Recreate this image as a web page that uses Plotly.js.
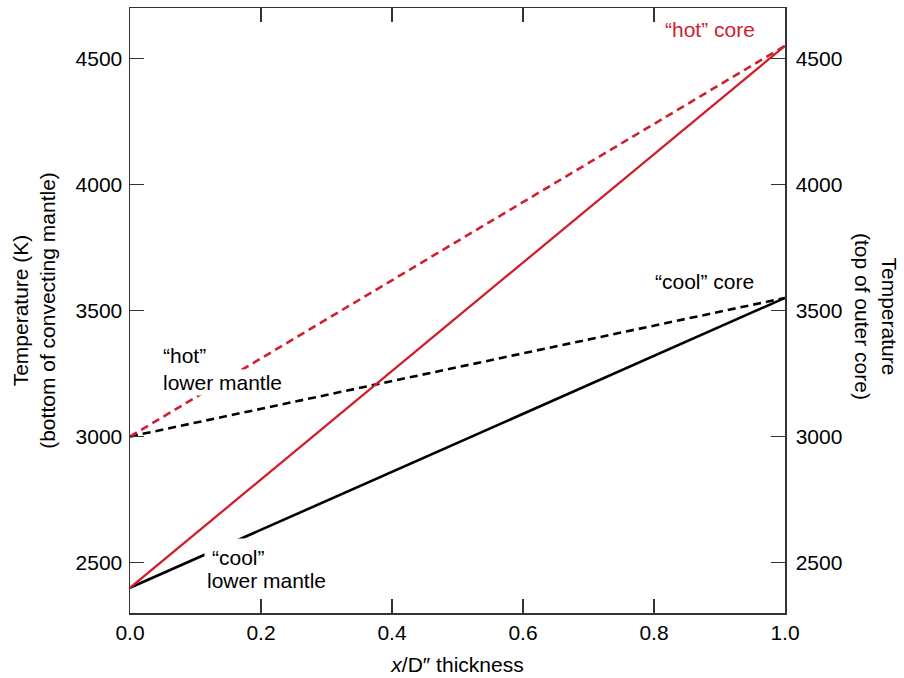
<!DOCTYPE html>
<html>
<head>
<meta charset="utf-8">
<script src="https://cdn.plot.ly/plotly-3.0.1.min.js"></script>
<style>html,body{margin:0;padding:0;background:#fff;}#chart{width:904px;height:678px;}</style>
</head>
<body>
<div id="chart"></div>
<script>
// x positions (fraction of D" thickness)
const xThickness = [0, 1];
// temperatures (K)
const hotCoreHotMantle = [3000, 4550];   // red dashed
const hotCoreCoolMantle = [2400, 4550];  // red solid
const coolCoreHotMantle = [3000, 3550];  // black dashed
const coolCoreCoolMantle = [2400, 3550]; // black solid

const xTickVals = [0, 0.2, 0.4, 0.6, 0.8, 1.0];
const xTickText = ["0.0", "0.2", "0.4", "0.6", "0.8", "1.0"];
const yTickVals = [2500, 3000, 3500, 4000, 4500];
const yTickText = ["2500", "3000", "3500", "4000", "4500"];

const RED = "rgb(208,32,46)";
const BLACK = "#000";
const FONT = "Liberation Sans, Arial, sans-serif";
const FS = 21;

const traces = [
  {x: xThickness, y: coolCoreCoolMantle, mode: "lines", line: {color: BLACK, width: 2.6}, hoverinfo: "skip"},
  {x: xThickness, y: coolCoreHotMantle, mode: "lines", line: {color: BLACK, width: 2.6, dash: "8px,5px"}, hoverinfo: "skip"},
  {x: xThickness, y: hotCoreHotMantle, mode: "lines", line: {color: RED, width: 2.6, dash: "8px,5px"}, hoverinfo: "skip"},
  {x: xThickness, y: hotCoreCoolMantle, mode: "lines", line: {color: RED, width: 2.3}, hoverinfo: "skip"},
  {x: xThickness, y: hotCoreCoolMantle, yaxis: "y2", mode: "lines", line: {color: "rgba(0,0,0,0)", width: 0}, hoverinfo: "skip"}
];

const axisCommon = {
  showgrid: false, zeroline: false, showline: true, linecolor: "#333", linewidth: 1.5,
  ticks: "inside", ticklen: 14, tickwidth: 1.5, tickcolor: "#333",
  tickfont: {family: FONT, size: FS, color: "#000"}
};

const layout = {
  width: 904, height: 678,
  margin: {l: 130, r: 119, t: 8, b: 65},
  paper_bgcolor: "#fff", plot_bgcolor: "#fff",
  showlegend: false,
  font: {family: FONT, size: FS, color: "#000"},
  xaxis: Object.assign({}, axisCommon, {
    range: [0, 1], tickvals: xTickVals, ticktext: xTickText, mirror: "ticks",
    title: {text: "<i>x</i>/D″ thickness", font: {family: FONT, size: FS}, standoff: 14}
  }),
  yaxis: Object.assign({}, axisCommon, {
    range: [2300, 4700], tickvals: yTickVals, ticktext: yTickText, ticklabelstandoff: 2,
    title: {text: "Temperature (K)<br>(bottom of convecting mantle)", font: {family: FONT, size: FS}, standoff: 14}
  }),
  yaxis2: Object.assign({}, axisCommon, {
    range: [2300, 4700], tickvals: yTickVals, ticktext: yTickText, ticklabelstandoff: 5,
    overlaying: "y", side: "right"
  }),
  annotations: [
    {xref: "paper", yref: "paper", x: 1.181, y: 0.49, textangle: 90, showarrow: false,
     text: "Temperature<br>(top of outer core)", font: {family: FONT, size: FS, color: "#000"}},
    {x: 0.957, y: 4614, xanchor: "right", showarrow: false, text: "“hot” core", font: {family: FONT, size: FS, color: RED}},
    {x: 0.955, y: 3615, xanchor: "right", showarrow: false, text: "“cool” core", font: {family: FONT, size: FS, color: BLACK}},
    {x: 0.047, y: 3322, xanchor: "left", showarrow: false, text: "“hot”", font: {family: FONT, size: FS, color: BLACK}},
    {x: 0.047, y: 3215, xanchor: "left", showarrow: false, text: "lower mantle", bgcolor: "#fff", borderpad: 1, font: {family: FONT, size: FS, color: BLACK}},
    {x: 0.113, y: 2519, xanchor: "left", showarrow: false, text: "“cool”", bgcolor: "#fff", borderpad: 7, font: {family: FONT, size: FS, color: BLACK}},
    {x: 0.115, y: 2428, xanchor: "left", showarrow: false, text: "lower mantle", font: {family: FONT, size: FS, color: BLACK}}
  ]
};

Plotly.newPlot("chart", traces, layout, {displayModeBar: false, staticPlot: true});
</script>
</body>
</html>
